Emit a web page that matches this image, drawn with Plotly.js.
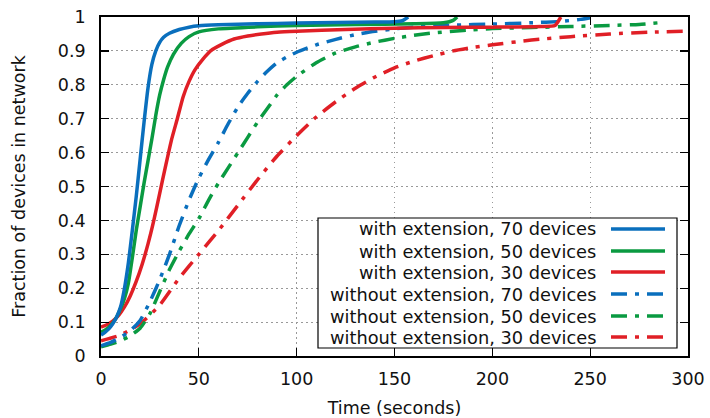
<!DOCTYPE html>
<html>
<head>
<meta charset="utf-8">
<script src="https://cdn.plot.ly/plotly-3.0.1.min.js"></script>
<style>html,body{margin:0;padding:0;background:#fff;}#chart{width:710px;height:418px;}</style>
</head>
<body>
<div id="chart"></div>
<script>
// ---- data ----
const seriesNames = [
  "with extension, 70 devices",
  "with extension, 50 devices",
  "with extension, 30 devices",
  "without extension, 70 devices",
  "without extension, 50 devices",
  "without extension, 30 devices"
];

const withExt70X = [0, 2, 4, 6, 8, 10, 12, 14, 16, 18, 20, 22, 24, 26, 28, 30, 32, 35, 40, 45, 50, 60, 80, 100, 120, 140, 150, 154, 157];
const withExt70Y = [0.062, 0.07, 0.08, 0.095, 0.115, 0.145, 0.2, 0.275, 0.37, 0.47, 0.58, 0.69, 0.79, 0.86, 0.9, 0.925, 0.94, 0.952, 0.963, 0.97, 0.974, 0.977, 0.98, 0.982, 0.984, 0.985, 0.986, 0.989, 1.0];

const withExt50X = [0, 2, 4, 6, 8, 10, 12, 14, 16, 18, 20, 22, 24, 26, 28, 30, 32, 34, 37, 41, 45, 50, 60, 80, 100, 130, 160, 175, 180, 182];
const withExt50Y = [0.07, 0.076, 0.085, 0.097, 0.115, 0.14, 0.17, 0.215, 0.29, 0.37, 0.44, 0.51, 0.575, 0.64, 0.71, 0.77, 0.815, 0.852, 0.89, 0.922, 0.942, 0.956, 0.965, 0.971, 0.975, 0.978, 0.98, 0.983, 0.99, 1.0];

const withExt30X = [0, 3, 6, 9, 12, 15, 18, 21, 24, 27, 30, 33, 36, 39, 42, 45, 48, 52, 56, 62, 68, 75, 82, 90, 100, 125, 150, 175, 200, 225, 232, 235];
const withExt30Y = [0.085, 0.092, 0.103, 0.12, 0.145, 0.178, 0.22, 0.27, 0.33, 0.4, 0.48, 0.56, 0.637, 0.7, 0.765, 0.81, 0.844, 0.875, 0.9, 0.92, 0.935, 0.944, 0.95, 0.955, 0.958, 0.963, 0.967, 0.969, 0.97, 0.972, 0.975, 1.0];

const withoutExt70X = [0, 5, 10, 15, 20, 25, 30, 35, 40, 45, 50, 55, 60, 65, 70, 75, 80, 85, 90, 95, 100, 110, 120, 130, 140, 150, 160, 170, 180, 200, 220, 235, 245, 250];
const withoutExt70Y = [0.03, 0.04, 0.055, 0.075, 0.105, 0.16, 0.225, 0.3, 0.385, 0.46, 0.525, 0.58, 0.63, 0.685, 0.735, 0.775, 0.81, 0.84, 0.865, 0.882, 0.896, 0.918, 0.934, 0.948, 0.958, 0.965, 0.97, 0.973, 0.976, 0.979, 0.983, 0.987, 0.993, 0.998];

const withoutExt50X = [0, 5, 10, 15, 20, 25, 30, 35, 40, 45, 50, 55, 60, 65, 70, 75, 80, 85, 90, 95, 100, 110, 120, 130, 140, 150, 160, 170, 180, 190, 200, 220, 240, 260, 275, 285];
const withoutExt50Y = [0.027, 0.035, 0.045, 0.06, 0.082, 0.125, 0.19, 0.255, 0.31, 0.36, 0.405, 0.46, 0.51, 0.555, 0.6, 0.645, 0.69, 0.73, 0.77, 0.8, 0.825, 0.865, 0.894, 0.912, 0.926, 0.937, 0.946, 0.953, 0.958, 0.962, 0.966, 0.969, 0.972, 0.975, 0.978, 0.983];

const withoutExt30X = [0, 10, 20, 30, 40, 50, 60, 70, 80, 90, 100, 110, 120, 130, 140, 150, 160, 170, 180, 190, 200, 220, 240, 260, 280, 300];
const withoutExt30Y = [0.045, 0.062, 0.095, 0.15, 0.23, 0.3, 0.37, 0.445, 0.52, 0.59, 0.65, 0.705, 0.75, 0.79, 0.823, 0.85, 0.87, 0.886, 0.9, 0.91, 0.918, 0.932, 0.942, 0.95, 0.955, 0.958];

const xTickVals = [0, 50, 100, 150, 200, 250, 300];
const yTickVals = [0, 0.1, 0.2, 0.3, 0.4, 0.5, 0.6, 0.7, 0.8, 0.9, 1];
const xTitle = "Time (seconds)";
const yTitle = "Fraction of devices in network";

// ---- styles ----
const colors = ["#0a6fbd", "#0a9a41", "#e01f26", "#0a6fbd", "#0a9a41", "#e01f26"];
const DASHDOT = "16px,8px,4px,8px";
const dashes = ["solid", "solid", "solid", DASHDOT, DASHDOT, DASHDOT];
const xs = [withExt70X, withExt50X, withExt30X, withoutExt70X, withoutExt50X, withoutExt30X];
const ys = [withExt70Y, withExt50Y, withExt30Y, withoutExt70Y, withoutExt50Y, withoutExt30Y];
const FONT = "DejaVu Sans";
const FS = 17.5;

const order = [5, 4, 3, 2, 1, 0];
const traces = order.map(i => ({
  type: "scatter", mode: "lines", name: seriesNames[i],
  x: xs[i], y: ys[i],
  line: {color: colors[i], width: 3.5, dash: dashes[i], shape: "spline", smoothing: 0.5},
  showlegend: false, hoverinfo: "skip"
}));

// ---- hand-built legend (text left, sample right) ----
const plotL = 101, plotR = 688, plotT = 17, plotB = 356;
const px2x = p => (p - plotL) / (plotR - plotL);
const py2y = p => (plotB - p) / (plotB - plotT);

const shapes = [{
  type: "rect", xref: "paper", yref: "paper", layer: "above",
  x0: px2x(318), x1: px2x(677), y0: py2y(348), y1: py2y(218),
  fillcolor: "#ffffff", line: {color: "#000000", width: 1.2}
}];
const annotations = [];
const rowY = [229, 251, 272, 294, 316, 337];
seriesNames.forEach((n, i) => {
  annotations.push({
    xref: "paper", yref: "paper", x: px2x(598), y: py2y(rowY[i]),
    xanchor: "right", yanchor: "middle", text: n, showarrow: false,
    font: {family: FONT, size: 17.8, color: "#111"}
  });
  shapes.push({
    type: "line", xref: "paper", yref: "paper", layer: "above",
    x0: px2x(611), x1: px2x(665), y0: py2y(rowY[i]), y1: py2y(rowY[i]),
    line: {color: colors[i], width: 3.5, dash: dashes[i]}
  });
});

const axisCommon = {
  showline: true, linecolor: "#000", linewidth: 1.8, mirror: "ticks",
  ticks: "inside", ticklen: 8, tickwidth: 1.2, tickcolor: "#000",
  showgrid: true, gridcolor: "#999999", gridwidth: 1, griddash: "1.5px,3.5px",
  zeroline: false,
  tickfont: {family: FONT, size: FS, color: "#111"}
};

const layout = {
  width: 710, height: 418,
  margin: {l: plotL, r: 710 - plotR, t: plotT, b: 418 - plotB},
  paper_bgcolor: "#fff", plot_bgcolor: "#fff",
  font: {family: FONT, size: FS, color: "#111"},
  xaxis: Object.assign({}, axisCommon, {
    range: [0, 300], tickvals: xTickVals, ticklabelstandoff: 6,
    title: {text: xTitle, font: {family: FONT, size: FS, color: "#111"}, standoff: 19}
  }),
  yaxis: Object.assign({}, axisCommon, {
    range: [0, 1], tickvals: yTickVals, ticklabelstandoff: 10,
    title: {text: yTitle, font: {family: FONT, size: FS, color: "#111"}, standoff: 28}
  }),
  shapes: shapes,
  annotations: annotations,
  showlegend: false
};

Plotly.newPlot("chart", traces, layout, {displayModeBar: false, staticPlot: true});
</script>
</body>
</html>
